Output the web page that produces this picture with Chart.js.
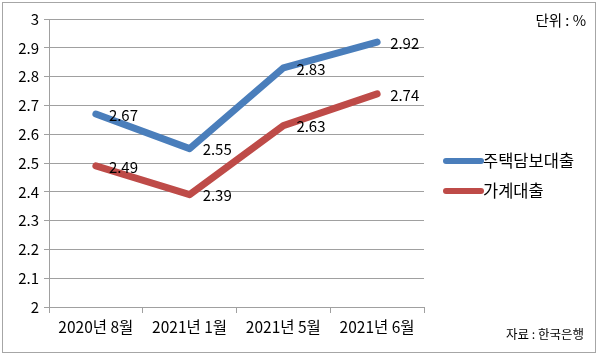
<!DOCTYPE html>
<html><head><meta charset="utf-8">
<script src="https://cdn.jsdelivr.net/npm/chart.js@4/dist/chart.umd.min.js"></script>
<style>html,body{margin:0;padding:0;background:#fff}#wrap{width:600px;height:360px}</style>
</head><body><div id="wrap"><canvas id="c" width="600" height="360"></canvas></div>
<script>
const categories = ['2020년 8월', '2021년 1월', '2021년 5월', '2021년 6월'];
const mortgage = [2.67, 2.55, 2.83, 2.92];
const household = [2.49, 2.39, 2.63, 2.74];
const seriesNames = ['주택담보대출', '가계대출'];
const yTicks = [2, 2.1, 2.2, 2.3, 2.4, 2.5, 2.6, 2.7, 2.8, 2.9, 3];
const unitText = '단위 : %';
const sourceText = '자료 : 한국은행';

const FONT = "'Noto Sans CJK KR', 'Noto Sans', sans-serif";
const BLUE = '#4a7ebb', RED = '#be4b48';

const extras = {
  id: 'extras',
  afterDatasetsDraw(chart) {
    const ctx = chart.ctx;
    ctx.save();
    ctx.font = '15px ' + FONT;
    ctx.fillStyle = '#000';
    ctx.textAlign = 'left';
    ctx.textBaseline = 'middle';
    chart.data.datasets.forEach((ds, i) => {
      chart.getDatasetMeta(i).data.forEach((pt, j) => {
        ctx.fillText(String(ds.data[j]), pt.x + 13, pt.y + 1);
      });
    });
    chart.data.datasets.forEach((ds, i) => {
      const y = 161 + i * 30;
      ctx.strokeStyle = ds.borderColor;
      ctx.lineWidth = 6;
      ctx.lineCap = 'round';
      ctx.beginPath(); ctx.moveTo(446, y); ctx.lineTo(481, y); ctx.stroke();
      ctx.fillStyle = '#000';
      ctx.font = '16.5px ' + FONT;
      ctx.fillText(ds.label, 483, y);
    });
    ctx.font = '14.5px ' + FONT;
    ctx.textAlign = 'right';
    ctx.fillText(unitText, 586, 20);
    ctx.font = '12.5px ' + FONT;
    ctx.fillText(sourceText, 584, 334);
    ctx.strokeStyle = '#a6a6a6';
    ctx.lineWidth = 1;
    ctx.strokeRect(2.5, 2.5, 593, 350);
    ctx.restore();
  }
};

new Chart(document.getElementById('c'), {
  type: 'line',
  data: {
    labels: categories,
    datasets: [
      { label: seriesNames[0], data: mortgage, borderColor: BLUE, backgroundColor: BLUE, borderWidth: 7, pointRadius: 0, tension: 0, borderCapStyle: 'round', borderJoinStyle: 'round' },
      { label: seriesNames[1], data: household, borderColor: RED, backgroundColor: RED, borderWidth: 7, pointRadius: 0, tension: 0, borderCapStyle: 'round', borderJoinStyle: 'round' }
    ]
  },
  options: {
    responsive: false,
    animation: false,
    layout: { padding: { left: 0, right: 176, top: 19, bottom: 0 } },
    plugins: { legend: { display: false }, tooltip: { enabled: false } },
    scales: {
      x: {
        offset: true,
        grid: { offset: true, drawOnChartArea: false, drawTicks: true, tickLength: 6, color: '#a0a0a0' },
        border: { color: '#a0a0a0' },
        ticks: { color: '#000', font: { family: FONT, size: 15.5 }, padding: 5, maxRotation: 0, autoSkip: false },
        afterFit(s) { s.height = 53; }
      },
      y: {
        min: 2, max: 3,
        afterBuildTicks(s) { s.ticks = yTicks.map(v => ({ value: v })); },
        grid: { color: '#a0a0a0', tickLength: 5 },
        border: { color: '#a0a0a0' },
        ticks: { color: '#000', font: { family: FONT, size: 15 }, padding: 5, callback: v => String(Math.round(v * 10) / 10) },
        afterFit(s) { s.width = 49; }
      }
    }
  },
  plugins: [extras]
});
</script></body></html>
